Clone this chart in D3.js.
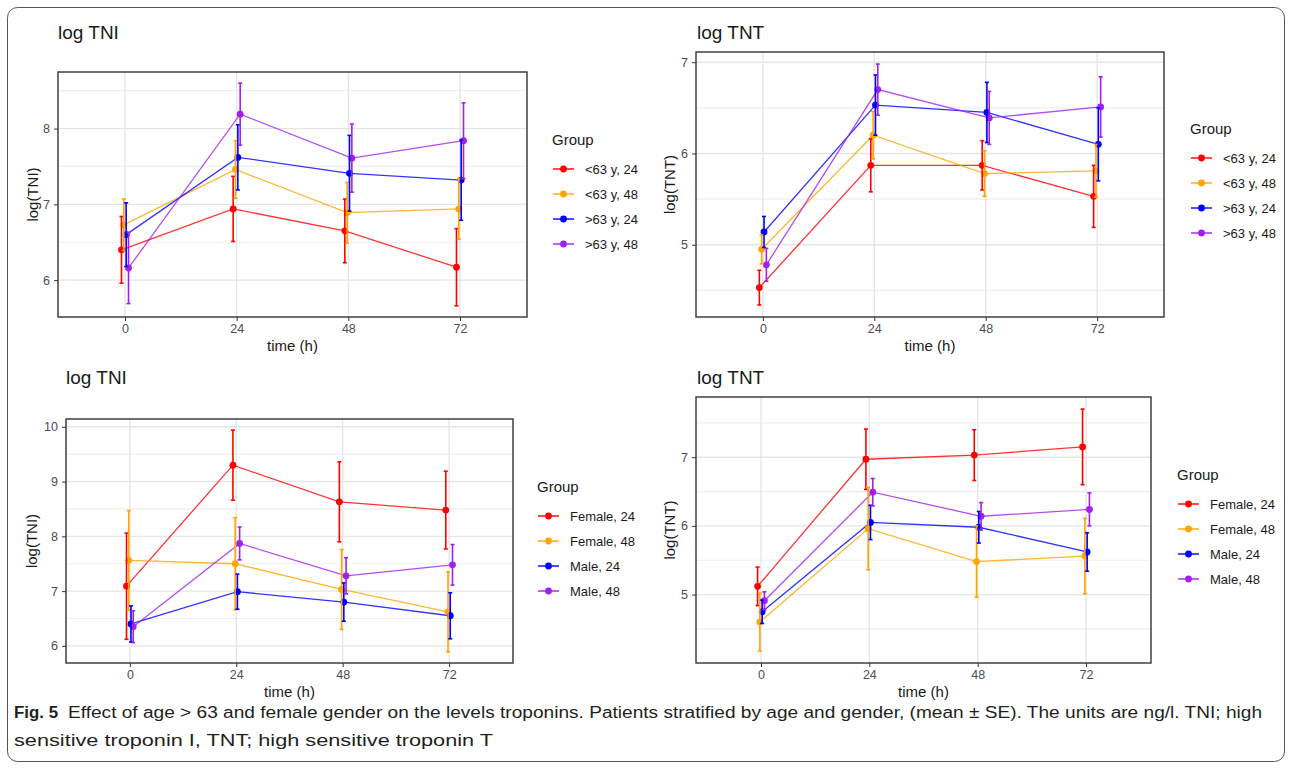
<!DOCTYPE html>
<html>
<head>
<meta charset="utf-8">
<title></title>
<script src="https://cdn.jsdelivr.net/npm/d3@7"></script>
<style>
  body { margin: 0; background: #fff; font-family: "Liberation Sans", Arial, sans-serif; }
  svg { display: block; }
  .axis path { display: none; }
  .axis line { stroke: #333; }
  .axis text { fill: #4d4d4d; font-size: 12.5px; font-family: "Liberation Sans", Arial, sans-serif; }
</style>
</head>
<body>
<script>
// data (mean and SE per group, times 0/24/48/72 h)
var times = ["0", "24", "48", "72"]
var ageGroups = ["<63 y, 24", "<63 y, 48", ">63 y, 24", ">63 y, 48"]
var sexGroups = ["Female, 24", "Female, 48", "Male, 24", "Male, 48"]

var tniAgeMean = [[6.40, 6.94, 6.65, 6.17], [6.73, 7.46, 6.89, 6.94], [6.60, 7.62, 7.41, 7.32], [6.16, 8.19, 7.61, 7.84]]
var tniAgeSe   = [[0.44, 0.43, 0.42, 0.51], [0.34, 0.38, 0.40, 0.40], [0.42, 0.43, 0.50, 0.53], [0.47, 0.41, 0.45, 0.50]]

var tntAgeMean = [[4.53, 5.87, 5.87, 5.53], [4.95, 6.20, 5.78, 5.81], [5.14, 6.53, 6.45, 6.10], [4.78, 6.70, 6.39, 6.51]]
var tntAgeSe   = [[0.19, 0.29, 0.27, 0.34], [0.16, 0.26, 0.25, 0.29], [0.17, 0.33, 0.33, 0.40], [0.18, 0.28, 0.29, 0.33]]

var tniSexMean = [[7.09, 9.30, 8.63, 8.48], [7.56, 7.50, 7.03, 6.62], [6.40, 6.99, 6.80, 6.55], [6.35, 7.87, 7.28, 7.48]]
var tniSexSe   = [[0.97, 0.64, 0.73, 0.71], [0.91, 0.84, 0.73, 0.73], [0.33, 0.32, 0.35, 0.42], [0.29, 0.30, 0.33, 0.37]]

var tntSexMean = [[5.12, 6.97, 7.03, 7.15], [4.60, 5.96, 5.48, 5.56], [4.75, 6.05, 5.98, 5.62], [4.91, 6.49, 6.14, 6.24]]
var tntSexSe   = [[0.28, 0.44, 0.37, 0.55], [0.42, 0.60, 0.52, 0.55], [0.17, 0.25, 0.23, 0.28], [0.13, 0.20, 0.20, 0.24]]

var colors = ["#ff0000", "#ffa500", "#0000ff", "#a020f0"]

var W = 1292, H = 768

var svg = d3.select("body").append("svg")
    .attr("width", W)
    .attr("height", H)

// outer frame
svg.append("rect")
    .attr("x", 7.5).attr("y", 7.5)
    .attr("width", 1277).attr("height", 754)
    .attr("rx", 10)
    .attr("fill", "none")
    .attr("stroke", "#555")
    .attr("stroke-width", 1)

var panels = [
  { title: "log TNI", ylab: "log(TNI)", groups: ageGroups, mean: tniAgeMean, se: tniAgeSe,
    x0: 58, x1: 527, y0: 72, y1: 317, titleX: 58, titleY: 39, ylabX: 33, leg: { x: 552, y: 145 } },
  { title: "log TNT", ylab: "log(TNT)", groups: ageGroups, mean: tntAgeMean, se: tntAgeSe,
    x0: 696, x1: 1164, y0: 52, y1: 317, titleX: 697, titleY: 39, ylabX: 670, leg: { x: 1190, y: 134 } },
  { title: "log TNI", ylab: "log(TNI)", groups: sexGroups, mean: tniSexMean, se: tniSexSe,
    x0: 66, x1: 513, y0: 419, y1: 663, titleX: 66, titleY: 384, ylabX: 32, leg: { x: 537, y: 492 } },
  { title: "log TNT", ylab: "log(TNT)", groups: sexGroups, mean: tntSexMean, se: tntSexSe,
    x0: 696, x1: 1151, y0: 397, y1: 663, titleX: 697, titleY: 384, ylabX: 670, leg: { x: 1177, y: 480 } }
]

panels.forEach(drawPanel)

function drawPanel(p) {
  var g = svg.append("g")

  // y range from mean +- se, expanded 5% like ggplot
  var lo = d3.min(p.mean, function(m, i) { return d3.min(m, function(v, j) { return v - p.se[i][j] }) })
  var hi = d3.max(p.mean, function(m, i) { return d3.max(m, function(v, j) { return v + p.se[i][j] }) })
  var pad = (hi - lo) * 0.05

  var x = d3.scalePoint().domain(times).range([p.x0, p.x1]).padding(0.6)
  var y = d3.scaleLinear().domain([lo - pad, hi + pad]).range([p.y1, p.y0])

  var major = d3.range(Math.ceil(lo - pad), Math.floor(hi + pad) + 1)
  var minor = d3.range(Math.ceil((lo - pad) * 2) / 2, hi + pad, 0.5).filter(function(v) { return v % 1 != 0 })

  // grid
  g.selectAll(".minor").data(minor).enter().append("line")
      .attr("x1", p.x0).attr("x2", p.x1)
      .attr("y1", y).attr("y2", y)
      .attr("stroke", "#efefef").attr("stroke-width", 1.2)
  g.selectAll(".majorY").data(major).enter().append("line")
      .attr("x1", p.x0).attr("x2", p.x1)
      .attr("y1", y).attr("y2", y)
      .attr("stroke", "#e6e6e6").attr("stroke-width", 1.4)
  g.selectAll(".majorX").data(times).enter().append("line")
      .attr("x1", x).attr("x2", x)
      .attr("y1", p.y0).attr("y2", p.y1)
      .attr("stroke", "#e6e6e6").attr("stroke-width", 1.4)

  // dodge offset per group
  var step = x.step()
  function px(gi, ti) { return x(times[ti]) + (gi - 1.5) * 0.021 * step }

  // lines
  p.mean.forEach(function(m, gi) {
    var line = d3.line()
        .x(function(d, ti) { return px(gi, ti) })
        .y(function(d) { return y(d) })
    g.append("path").datum(m)
        .attr("d", line)
        .attr("fill", "none")
        .attr("stroke", colors[gi])
        .attr("stroke-opacity", 0.8)
        .attr("stroke-width", 1.3)
  })

  // points
  p.mean.forEach(function(m, gi) {
    g.selectAll(".pt" + gi).data(m).enter().append("circle")
        .attr("cx", function(d, ti) { return px(gi, ti) })
        .attr("cy", function(d) { return y(d) })
        .attr("r", 3.4)
        .attr("fill", colors[gi])
  })

  // error bars
  p.mean.forEach(function(m, gi) {
    var eb = g.append("g").attr("stroke", colors[gi]).attr("stroke-width", 1.6)
    m.forEach(function(v, ti) {
      var cx = px(gi, ti)
      var top = y(v + p.se[gi][ti]), bot = y(v - p.se[gi][ti])
      eb.append("line").attr("x1", cx).attr("x2", cx).attr("y1", top).attr("y2", bot)
      eb.append("line").attr("x1", cx - 2).attr("x2", cx + 2).attr("y1", top).attr("y2", top)
      eb.append("line").attr("x1", cx - 2).attr("x2", cx + 2).attr("y1", bot).attr("y2", bot)
    })
  })

  // panel border
  g.append("rect")
      .attr("x", p.x0).attr("y", p.y0)
      .attr("width", p.x1 - p.x0).attr("height", p.y1 - p.y0)
      .attr("fill", "none")
      .attr("stroke", "#333")
      .attr("stroke-width", 1.4)

  // axes
  g.append("g").attr("class", "axis")
      .attr("transform", "translate(" + p.x0 + ",0)")
      .call(d3.axisLeft(y).tickValues(major).tickFormat(d3.format("d")).tickSize(4).tickPadding(4))
  g.append("g").attr("class", "axis")
      .attr("transform", "translate(0," + p.y1 + ")")
      .call(d3.axisBottom(x).tickSize(4).tickPadding(3))

  // axis titles
  g.append("text")
      .attr("x", (p.x0 + p.x1) / 2).attr("y", p.y1 + 29)
      .attr("dy", "0.35em")
      .attr("text-anchor", "middle")
      .attr("font-size", "15px")
      .attr("fill", "#1a1a1a")
      .text("time (h)")
  g.append("text")
      .attr("transform", "translate(" + p.ylabX + "," + (p.y0 + p.y1) / 2 + ") rotate(-90)")
      .attr("dy", "0.35em")
      .attr("text-anchor", "middle")
      .attr("font-size", "15px")
      .attr("fill", "#1a1a1a")
      .text(p.ylab)

  // plot title
  g.append("text")
      .attr("x", p.titleX).attr("y", p.titleY)
      .attr("font-size", "19px")
      .attr("fill", "#1a1a1a")
      .text(p.title)

  // legend
  var leg = g.append("g")
  leg.append("text")
      .attr("x", p.leg.x).attr("y", p.leg.y)
      .attr("font-size", "15px")
      .attr("fill", "#1a1a1a")
      .text("Group")
  p.groups.forEach(function(name, gi) {
    var ry = p.leg.y + 24 + gi * 25
    leg.append("line")
        .attr("x1", p.leg.x + 1).attr("x2", p.leg.x + 22)
        .attr("y1", ry).attr("y2", ry)
        .attr("stroke", colors[gi]).attr("stroke-width", 1.4)
    leg.append("circle")
        .attr("cx", p.leg.x + 11.5).attr("cy", ry).attr("r", 3.4)
        .attr("fill", colors[gi])
    leg.append("text")
        .attr("x", p.leg.x + 33).attr("y", ry)
        .attr("dy", "0.35em")
        .attr("font-size", "13px")
        .attr("fill", "#1a1a1a")
        .text(name)
  })
}

// caption
var cap = svg.append("g")
    .attr("font-family", "'Liberation Sans Narrow', 'Liberation Sans', Arial, sans-serif")
    .attr("font-size", "16px")
    .attr("fill", "#231f20")
cap.append("text")
    .attr("x", 14).attr("y", 718)
    .attr("font-weight", "bold")
    .attr("textLength", 44)
    .attr("lengthAdjust", "spacingAndGlyphs")
    .text("Fig. 5")
cap.append("text")
    .attr("x", 68).attr("y", 718)
    .attr("textLength", 1194)
    .attr("lengthAdjust", "spacingAndGlyphs")
    .text("Effect of age > 63 and female gender on the levels troponins. Patients stratified by age and gender, (mean \u00b1 SE). The units are ng/l. TNI; high")
cap.append("text")
    .attr("x", 14).attr("y", 746)
    .attr("textLength", 479)
    .attr("lengthAdjust", "spacingAndGlyphs")
    .text("sensitive troponin I, TNT; high sensitive troponin T")
</script>
</body>
</html>
